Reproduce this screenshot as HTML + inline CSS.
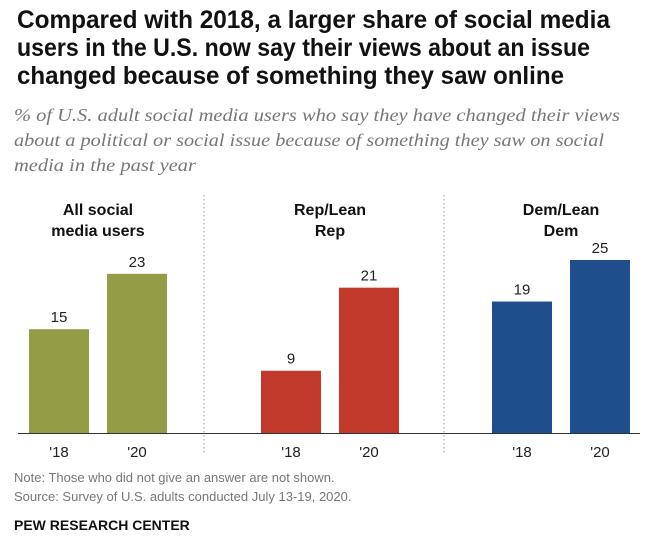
<!DOCTYPE html>
<html><head><meta charset="utf-8"><style>
body{margin:0;background:#fff}
svg{display:block}
.t{font-family:"Liberation Sans Narrow","Liberation Sans",sans-serif;font-weight:bold;font-size:25px;fill:#111}
.s{font-family:"Liberation Serif",serif;font-style:italic;font-size:18px;fill:#777}
.g{font-family:"Liberation Sans Narrow","Liberation Sans",sans-serif;font-weight:bold;font-size:16px;fill:#111;text-anchor:middle}
.v{font-family:"Liberation Sans",sans-serif;font-size:15px;fill:#222;text-anchor:middle}
.n{font-family:"Liberation Sans",sans-serif;font-size:13px;fill:#777}
</style></head><body>
<svg id="c" width="645" height="545">
<text class="t" x="17" y="28" textLength="593" lengthAdjust="spacingAndGlyphs">Compared with 2018, a larger share of social media</text>
<text class="t" x="17" y="56" textLength="573" lengthAdjust="spacingAndGlyphs">users in the U.S. now say their views about an issue</text>
<text class="t" x="17" y="84" textLength="547" lengthAdjust="spacingAndGlyphs">changed because of something they saw online</text>
<text class="s" x="14" y="121" textLength="606" lengthAdjust="spacingAndGlyphs">% of U.S. adult social media users who say they have changed their views</text>
<text class="s" x="14" y="146" textLength="590" lengthAdjust="spacingAndGlyphs">about a political or social issue because of something they saw on social</text>
<text class="s" x="14" y="171" textLength="182" lengthAdjust="spacingAndGlyphs">media in the past year</text>
<g id="plot"></g>
<text class="n" x="14" y="482">Note: Those who did not give an answer are not shown.</text>
<text class="n" x="14" y="501">Source: Survey of U.S. adults conducted July 13-19, 2020.</text>
<text x="14" y="530" style="font-family:'Liberation Sans Narrow','Liberation Sans',sans-serif;font-weight:bold;font-size:14px;fill:#111">PEW RESEARCH CENTER</text>
</svg>
<script>
const groups=["All social|media users","Rep/Lean|Rep","Dem/Lean|Dem"];
const years=["'18","'20"];
const values18=[15,9,19];
const values20=[23,21,25];
const colors=["#949c45","#c0392b","#1f4e8c"];
const ns="http://www.w3.org/2000/svg";
const plot=document.getElementById('plot');
const base=433, scale=6.92;
const y=v=>base-v*scale;
const groupCenters=[98,330,561], bw=60, off=39;
function mk(t,a){const e=document.createElementNS(ns,t);for(const k in a)e.setAttribute(k,a[k]);plot.appendChild(e);return e;}
groups.forEach((g,i)=>{
  const lines=g.split('|');
  lines.forEach((l,j)=>{const t=mk('text',{class:'g',x:groupCenters[i],y:215+j*21});t.textContent=l;
  
  });
  [values18[i],values20[i]].forEach((v,k)=>{
    const cx=groupCenters[i]+(k?off:-off);
    const r=mk('rect',{x:cx-bw/2,y:y(v),width:bw,height:base-y(v),fill:colors[i]});
    
    
    const lt=mk('text',{class:'v',x:cx,y:y(v)-7});lt.textContent=v;
    
    
    const yt=mk('text',{class:'v',x:cx,y:457});yt.textContent=years[k];
    
    
  });
});
[204,444].forEach(x=>{const l=mk('line',{x1:x,x2:x,y1:195,y2:455,stroke:'#999','stroke-dasharray':'1.5 2.5'});

});
const ax=mk('line',{x1:18,x2:640,y1:base+0.5,y2:base+0.5,stroke:'#333','stroke-width':1});


</script>
</body></html>
